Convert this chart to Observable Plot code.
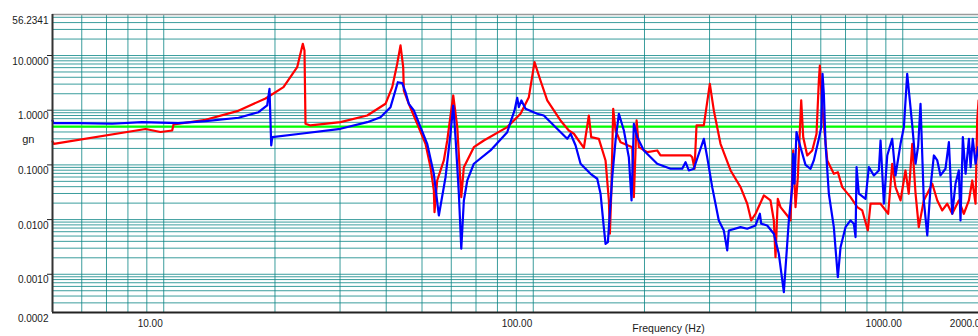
<!DOCTYPE html>
<html>
<head>
<meta charset="utf-8">
<script src="https://cdn.jsdelivr.net/npm/d3@7"></script>
<script src="https://cdn.jsdelivr.net/npm/@observablehq/plot@0.6"></script>
<style>
  html, body { margin: 0; padding: 0; background: #fff; overflow: hidden; }
  #chart svg { display: block; }
</style>
</head>
<body>
<div id="chart"></div>
<script>
// ---- Data (frequency in Hz, response in gn) ----
const redFreq = [5.00, 5.04, 8.93, 9.80, 10.54, 10.63, 12.98, 15.81, 18.86, 21.09, 22.97, 23.79, 24.04, 24.19, 24.95,
  30.09, 35.54, 39.83, 41.53, 42.84, 43.73, 44.47, 44.64, 46.05, 48.53, 51.10, 52.72, 53.82, 54.05, 54.96,
  57.28, 58.51, 60.74, 62.28, 63.86, 64.89, 69.06, 73.49, 85.04, 92.38, 97.28, 100.8, 104.6, 109.1, 118.5,
  124.8, 128.8, 137.1, 141.4, 143.5, 150.5, 156.9, 160.2, 161.2, 162.6, 164.6, 167.0, 172.3, 185.3, 187.2,
  190.4, 193.1, 203.5, 216.5, 221.0, 266.5, 269.3, 273.2, 276.6, 289.5, 300.5, 308.1, 321.2, 342.0, 363.9,
  379.4, 389.0, 399.5, 420.7, 438.6, 447.8, 452.5, 459.0, 466.8, 486.7, 496.8, 505.2, 512.6, 520.0, 531.1,
  537.8, 551.4, 568.9, 584.3, 592.8, 596.5, 605.5, 624.6, 650.8, 667.3, 685.8, 722.2, 753.1, 776.9, 804.4,
  818.0, 870.7, 913.3, 936.3, 955.7, 986.2, 1017, 1038, 1061, 1083, 1105, 1140, 1202, 1240, 1279,
  1319, 1361, 1418, 1463, 1510, 1542, 1574, 1590, 1604];
const redGn = [0.268, 0.243, 0.454, 0.400, 0.426, 0.548, 0.668, 0.96, 1.64, 2.64, 6.12, 16.4, 12.4, 0.565, 0.526,
  0.604, 0.80, 1.31, 2.64, 7.06, 15.3, 6.12, 2.29, 1.31, 0.565, 0.243, 0.0909, 0.0341, 0.01367, 0.0519,
  0.1205, 0.2796, 1.86, 0.49, 0.0257, 0.0909, 0.211, 0.2796, 0.49, 0.86, 1.73, 7.55, 3.49, 1.51, 0.649,
  0.426, 0.371, 0.2056, 0.80, 0.321, 0.30, 0.1205, 0.02236, 0.00551, 0.0297, 1.06, 0.426, 0.26, 0.211, 0.0257,
  0.649, 0.211, 0.171, 0.1836, 0.1487, 0.1487, 0.1384, 0.085, 0.526, 0.526, 3.04, 0.99, 0.243, 0.0791, 0.0392,
  0.01947, 0.00964, 0.01278, 0.0276, 0.02236, 0.00964, 0.00206, 0.024, 0.01688, 0.0119, 0.00964, 0.1836, 0.01688, 0.0597, 1.51,
  0.321, 0.1487, 0.1836, 0.371, 3.49, 6.57, 1.136, 0.1205, 0.0688, 0.0736, 0.0392, 0.0257, 0.01688, 0.0147, 0.00633,
  0.0195, 0.0195, 0.01278, 0.1049, 0.0392, 0.02236, 0.0791, 0.0297, 0.243, 0.0297, 0.00727, 0.02236, 0.0452, 0.02236, 0.0147,
  0.0195, 0.01278, 0.02236, 0.01278, 0.02236, 0.0519, 0.0195, 0.649, 1.51];

const blueFreq = [5.00, 5.03, 5.88, 7.25, 8.74, 10.96, 12.98, 15.94, 18.05, 19.05, 19.33, 19.54, 19.66, 23.45, 30.09,
  35.54, 38.61, 41.09, 43.00, 44.20, 45.11, 46.05, 47.52, 49.54, 51.64, 53.82, 55.53, 57.9, 59.7, 60.74,
  61.6, 62.9, 63.86, 64.89, 66.3, 69.06, 76.6, 85.04, 86.8, 89.0, 90.5, 91.4, 92.9, 95.3, 102.5,
  106.8, 113.7, 123.6, 126.2, 130.2, 134.3, 142.9, 149.0, 152.1, 155.2, 156.9, 159.2, 163.6, 167.0, 170.5,
  175.9, 181.4, 184.5, 187.2, 191.2, 199.2, 216.5, 235.3, 253.0, 258.3, 263.6, 272.0, 280.6, 289.5, 295.6,
  305.0, 317.8, 327.9, 334.9, 338.3, 363.9, 379.4, 399.5, 410.4, 414.0, 429.7, 447.8, 461.9, 476.6, 491.7,
  502.1, 505.2, 509.3, 515.7, 528.8, 545.5, 562.8, 574.5, 592.8, 601.6, 606.6, 611.5, 618.0, 630.9, 650.8,
  667.3, 678.6, 699.9, 722.2, 737.3, 745.2, 749.8, 760.6, 793.0, 809.6, 835.1, 861.5, 870.7, 888.9, 907.9,
  936.3, 955.7, 986.2, 1007, 1028, 1061, 1083, 1101, 1117, 1140, 1165, 1189, 1214, 1240, 1265,
  1305, 1333, 1361, 1389, 1418, 1433, 1454, 1479, 1510, 1526, 1547, 1574, 1600];
const blueGn = [0.649, 0.579, 0.579, 0.565, 0.604, 0.579, 0.63, 0.727, 0.92, 1.22, 2.46, 0.2265, 0.321, 0.371, 0.457,
  0.604, 0.746, 1.136, 3.25, 3.12, 2.14, 1.31, 0.99, 0.49, 0.243, 0.0688, 0.0119, 0.0597, 0.371, 1.22,
  0.321, 0.0297, 0.00293, 0.02236, 0.0519, 0.1049, 0.1836, 0.397, 0.604, 0.99, 1.69, 1.136, 1.51, 1.06, 0.86,
  0.80, 0.526, 0.30, 0.371, 0.2265, 0.1049, 0.0688, 0.0558, 0.0297, 0.00727, 0.00361, 0.00387, 0.0597, 0.2796, 0.86,
  0.426, 0.1384, 0.02236, 0.565, 0.321, 0.1836, 0.1049, 0.085, 0.085, 0.1122, 0.0791, 0.085, 0.16, 0.30, 0.1384,
  0.0392, 0.00964, 0.00633, 0.00273, 0.00633, 0.00727, 0.0068, 0.0078, 0.01278, 0.00839, 0.0078, 0.00551, 0.00237, 0.000471, 0.00964,
  0.0392, 0.16, 0.0452, 0.397, 0.211, 0.1, 0.085, 0.1205, 0.30, 0.49, 4.63, 2.0, 0.243, 0.0297, 0.00727,
  0.000886, 0.00313, 0.00727, 0.00964, 0.00839, 0.00477, 0.0909, 0.0297, 0.024, 0.0909, 0.0641, 0.0791, 0.2796, 0.0195, 0.1487,
  0.30, 0.0641, 0.243, 0.49, 4.63, 0.526, 0.1049, 0.2265, 1.31, 0.02236, 0.00513, 0.0392, 0.1487, 0.1205, 0.0641,
  0.085, 0.26, 0.01278, 0.0452, 0.0791, 0.00964, 0.321, 0.0688, 0.30, 0.0909, 0.30, 0.1049, 0.211];

const thresholdGn = [0.5];

// ---- Ticks / labels ----
const yTickValues = [56.2341, 10, 1, 0.1, 0.01, 0.001, 0.0002];
const yTickLabels = ["56.2341", "10.0000", "1.0000", "0.1000", "0.0100", "0.0010", "0.0002"];
const yMajorTicks = [10, 1, 0.1, 0.01, 0.001];
const xTickValues = [10, 100, 1000];
const xTickLabels = ["10.00", "100.00", "1000.00"];
const xEndTick = [2000];
const xEndLabel = ["2000.00"];
const yAxisTitle = ["gn"];
const xAxisTitle = ["Frequency (Hz)"];

const xDomain = [5, 2000];
const yDomain = [0.0002, 56.2341];

// log grid lines (1..9 per decade) inside each domain
const xGrid = [];
for (let e = 0; e <= 3; e++) for (let m = 1; m <= 9; m++) {
  const v = m * Math.pow(10, e);
  if (v >= xDomain[0] && v <= xDomain[1]) xGrid.push(v);
}
const yGrid = [];
for (let e = -4; e <= 1; e++) for (let m = 1; m <= 9; m++) {
  const v = +(m * Math.pow(10, e)).toPrecision(6);
  if (v >= yDomain[0] && v <= yDomain[1]) yGrid.push(v);
}

const red = redFreq.map((f, i) => ({f, g: redGn[i]}));
const blue = blueFreq.map((f, i) => ({f, g: blueGn[i]}));

const gridColor = "#0a8585";
const font = "'Liberation Sans', Arial, Helvetica, sans-serif";

const chart = Plot.plot({
  width: 978,
  height: 336,
  marginLeft: 52,
  marginRight: 0,
  marginTop: 14,
  marginBottom: 24,
  style: {fontFamily: font, fontSize: "10px", color: "#1a1a1a", background: "#ffffff"},
  x: {type: "log", domain: xDomain, range: [52, 1013.5], axis: null},
  y: {type: "log", domain: yDomain, range: [312, 14], axis: null},
  marks: [
    Plot.ruleX(xGrid, {stroke: gridColor, strokeOpacity: 0.8, strokeWidth: 1}),
    Plot.ruleY(yGrid, {stroke: gridColor, strokeOpacity: 0.8, strokeWidth: 1}),
    Plot.ruleY(thresholdGn, {stroke: "#00ff00", strokeWidth: 2.2}),
    Plot.line(red, {x: "f", y: "g", stroke: "#ff0000", strokeWidth: 2.2, strokeLinejoin: "round"}),
    Plot.line(blue, {x: "f", y: "g", stroke: "#0000ff", strokeWidth: 2.2, strokeLinejoin: "round"}),
    Plot.ruleY([yDomain[1]], {stroke: "#9a9a9a", strokeWidth: 1.5}),
    Plot.ruleY([yDomain[0]], {stroke: "#222", strokeWidth: 2}),
    Plot.ruleX([xDomain[0]], {stroke: "#333", strokeWidth: 2}),
    Plot.axisY(yMajorTicks, {anchor: "left", tickSize: 5, tickFormat: () => "", label: null, stroke: "#222"}),
    Plot.text(yTickValues, {y: d => d, text: (d, i) => yTickLabels[i], frameAnchor: "left",
      textAnchor: "end", dx: -4, dy: 6, fill: "#1a1a1a", fontSize: 10}),
    Plot.text(xTickValues, {x: d => d, text: (d, i) => xTickLabels[i], frameAnchor: "bottom",
      textAnchor: "end", dx: -1, dy: 14, fill: "#1a1a1a", fontSize: 10}),
    Plot.text(xEndTick, {x: d => d, text: (d, i) => xEndLabel[i], frameAnchor: "bottom",
      textAnchor: "end", dx: -28, dy: 14, fill: "#1a1a1a", fontSize: 10}),
    Plot.text(yAxisTitle, {frameAnchor: "left", textAnchor: "end", dx: -18, dy: -24, fill: "#1a1a1a", fontSize: 11}),
    Plot.text(xAxisTitle, {frameAnchor: "bottom", dx: 153, dy: 19, fill: "#1a1a1a", fontSize: 10.5})
  ]
});
document.getElementById("chart").append(chart);
</script>
</body>
</html>
